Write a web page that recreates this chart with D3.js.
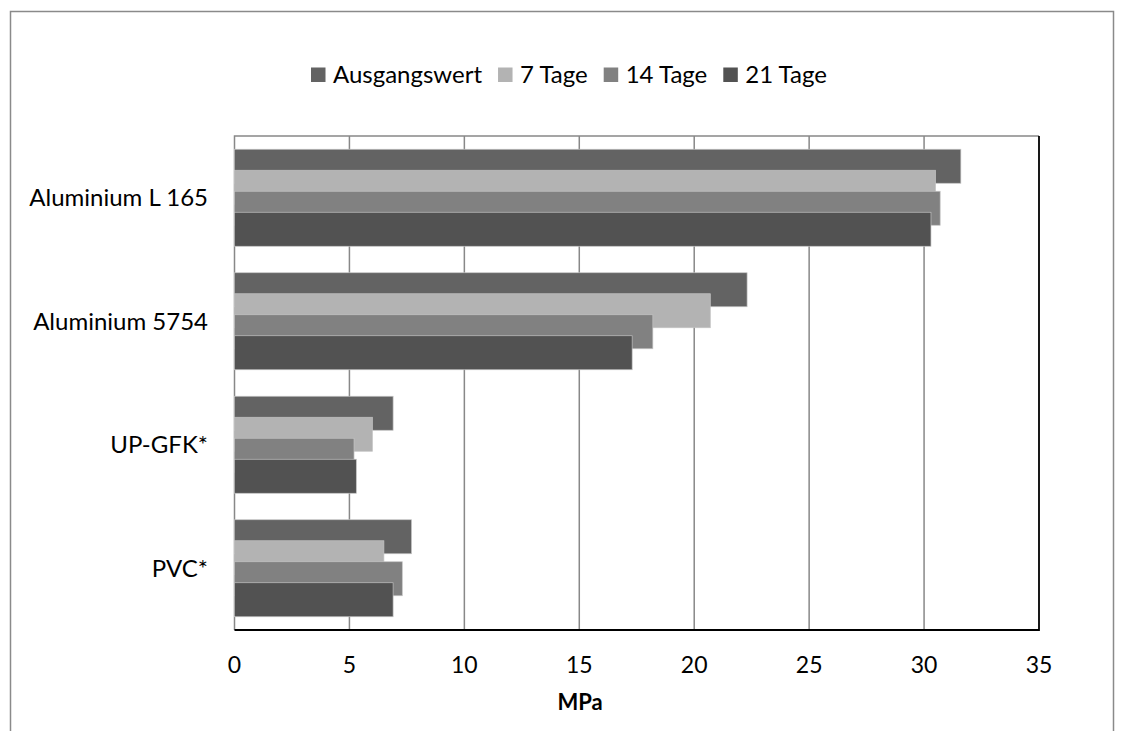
<!DOCTYPE html>
<html>
<head>
    <meta charset="utf-8">
    <title>MPa</title>
    <script src="https://cdn.jsdelivr.net/npm/d3@7/dist/d3.min.js"></script>
    <style>
        body { margin: 0; background: #fff; }
        text { font-family: Lato, "Open Sans", sans-serif; fill: #000; }
    </style>
</head>
<body>
<div id="chartContainer"></div>
<script>
// categories from top to bottom
var categories = ["Aluminium L 165", "Aluminium 5754", "UP-GFK*", "PVC*"];
var seriesNames = ["Ausgangswert", "7 Tage", "14 Tage", "21 Tage"];
var seriesColors = ["#636363", "#b3b3b3", "#818181", "#525252"];

var ausgangswert = [31.6, 22.3, 6.9, 7.7];
var tage7 = [30.5, 20.7, 6.0, 6.5];
var tage14 = [30.7, 18.2, 5.2, 7.3];
var tage21 = [30.3, 17.3, 5.3, 6.9];
var seriesValues = [ausgangswert, tage7, tage14, tage21];

var xTicks = [0, 5, 10, 15, 20, 25, 30, 35];
var xTitle = "MPa";

var width = 1121, height = 731;
var svg = d3.select("#chartContainer").append("svg")
    .attr("width", width)
    .attr("height", height);

// outer chart border (bottom edge is cut off)
svg.append("path")
    .attr("d", "M10.5," + height + "V11.5H1113.5V" + height)
    .attr("fill", "none")
    .attr("stroke", "#8a8a8a")
    .attr("stroke-width", 1.5);

var plot = { left: 234.5, right: 1039, top: 136, bottom: 630 };

var x = d3.scaleLinear().domain([0, 35]).range([plot.left, plot.right]);
var y = d3.scaleBand().domain(categories).range([plot.top, plot.bottom]);
// bars overlap: each one 34px tall, stepped 21px
var barH = 34;
var inner = d3.scalePoint().domain(seriesNames).range([0, 63]);

// gridlines
svg.append("g").selectAll("line")
    .data(xTicks.slice(1, -1))
    .enter()
    .append("line")
    .attr("x1", function (d) { return x(d); })
    .attr("x2", function (d) { return x(d); })
    .attr("y1", plot.top)
    .attr("y2", plot.bottom)
    .attr("stroke", "#888")
    .attr("stroke-width", 1.5);

// top + left plot border (gray)
svg.append("path")
    .attr("d", "M" + plot.left + "," + plot.bottom + "V" + plot.top + "H" + plot.right)
    .attr("fill", "none")
    .attr("stroke", "#888")
    .attr("stroke-width", 1.5);

// bars, later series on top
seriesNames.forEach(function (s, si) {
    svg.append("g").selectAll("rect")
        .data(seriesValues[si])
        .enter()
        .append("rect")
        .attr("x", x(0))
        .attr("y", function (d, i) {
            var c = y(categories[i]) + y.bandwidth() / 2 - (63 + barH) / 2;
            return c + inner(s);
        })
        .attr("width", function (d) { return x(d) - x(0); })
        .attr("height", barH)
        .attr("fill", seriesColors[si])
        .attr("stroke", "#c4c4c4")
        .attr("stroke-width", 0.7);
});

// right + bottom plot border (black)
svg.append("path")
    .attr("d", "M" + plot.left + "," + plot.bottom + "H" + plot.right + "V" + plot.top)
    .attr("fill", "none")
    .attr("stroke", "#000")
    .attr("stroke-width", 1.8);

// x tick labels
svg.append("g").selectAll("text")
    .data(xTicks)
    .enter()
    .append("text")
    .attr("x", function (d) { return x(d); })
    .attr("y", 673)
    .style("text-anchor", "middle")
    .style("font-size", "23px")
    .text(function (d) { return d; });

svg.append("text")
    .attr("x", 580)
    .attr("y", 710)
    .style("text-anchor", "middle")
    .style("font-size", "22px")
    .style("font-weight", "bold")
    .text(xTitle);

// category labels
svg.append("g").selectAll("text")
    .data(categories)
    .enter()
    .append("text")
    .attr("x", 208)
    .attr("y", function (d) { return y(d) + y.bandwidth() / 2; })
    .attr("dy", "0.35em")
    .style("text-anchor", "end")
    .style("font-size", "24px")
    .text(function (d) { return d; });

// legend
var legend = svg.append("g");
var lx = 311;
seriesNames.forEach(function (s, i) {
    legend.append("rect")
        .attr("x", lx)
        .attr("y", 67.5)
        .attr("width", 14.5)
        .attr("height", 14.5)
        .attr("fill", seriesColors[i]);
    var t = legend.append("text")
        .attr("x", lx + 22)
        .attr("y", 82.5)
        .style("font-size", "24px")
        .text(s);
    lx += 22 + t.node().getComputedTextLength() + 16;
});
</script>
</body>
</html>
